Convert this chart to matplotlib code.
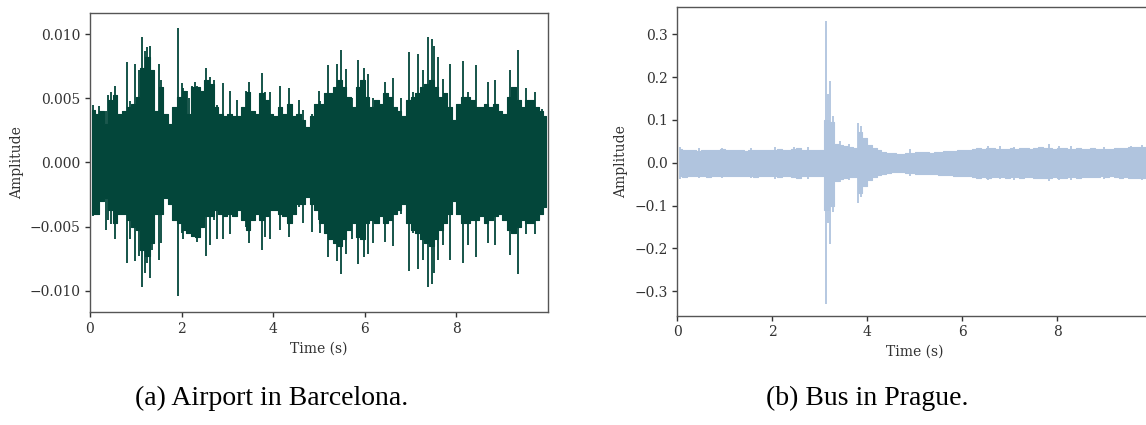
import numpy as np
import matplotlib
matplotlib.use("Agg")
import matplotlib.pyplot as plt

# envelope of each recording, one value per 0.1 s bin
airport_upper = [
    0.0041, 0.0038, 0.0040, 0.0030, 0.0049, 0.0053, 0.0038, 0.0040, 0.0043, 0.0046,
    0.0051, 0.0074, 0.0082, 0.0072, 0.0040, 0.0059, 0.0038, 0.0030, 0.0043, 0.0051,
    0.0056, 0.0038, 0.0059, 0.0059, 0.0056, 0.0064, 0.0061, 0.0043, 0.0038, 0.0036,
    0.0038, 0.0036, 0.0036, 0.0043, 0.0055, 0.0040, 0.0038, 0.0054, 0.0049, 0.0038,
    0.0036, 0.0043, 0.0038, 0.0046, 0.0036, 0.0038, 0.0033, 0.0028, 0.0036, 0.0046,
    0.0046, 0.0054, 0.0054, 0.0059, 0.0064, 0.0059, 0.0051, 0.0043, 0.0059, 0.0064,
    0.0051, 0.0043, 0.0049, 0.0046, 0.0054, 0.0051, 0.0043, 0.0040, 0.0036, 0.0049,
    0.0051, 0.0054, 0.0059, 0.0061, 0.0064, 0.0059, 0.0051, 0.0054, 0.0043, 0.0033,
    0.0046, 0.0051, 0.0051, 0.0049, 0.0043, 0.0043, 0.0046, 0.0043, 0.0046, 0.0040,
    0.0038, 0.0051, 0.0059, 0.0049, 0.0043, 0.0049, 0.0049, 0.0043, 0.0040, 0.0036,
]
airport_lower = [
    -0.0040, -0.0040, -0.0030, -0.0028, -0.0037, -0.0047, -0.0040, -0.0040, -0.0045, -0.0050,
    -0.0053, -0.0068, -0.0073, -0.0063, -0.0040, -0.0040, -0.0028, -0.0032, -0.0045, -0.0047,
    -0.0053, -0.0055, -0.0057, -0.0058, -0.0050, -0.0042, -0.0042, -0.0037, -0.0040, -0.0042,
    -0.0040, -0.0042, -0.0037, -0.0045, -0.0053, -0.0045, -0.0040, -0.0045, -0.0042, -0.0037,
    -0.0037, -0.0040, -0.0042, -0.0047, -0.0040, -0.0032, -0.0032, -0.0027, -0.0032, -0.0037,
    -0.0047, -0.0055, -0.0060, -0.0063, -0.0065, -0.0060, -0.0053, -0.0047, -0.0058, -0.0060,
    -0.0047, -0.0045, -0.0047, -0.0042, -0.0047, -0.0045, -0.0040, -0.0037, -0.0032, -0.0047,
    -0.0053, -0.0055, -0.0060, -0.0063, -0.0065, -0.0060, -0.0053, -0.0047, -0.0040, -0.0030,
    -0.0040, -0.0047, -0.0047, -0.0045, -0.0045, -0.0042, -0.0047, -0.0045, -0.0042, -0.0040,
    -0.0045, -0.0053, -0.0055, -0.0050, -0.0045, -0.0047, -0.0047, -0.0045, -0.0040, -0.0035,
]
# single spikes sticking out of the envelope: time (s), top, bottom
airport_spike_t = [
    0.06, 0.20, 0.35, 0.40, 0.45, 0.55, 0.80, 0.87, 0.98, 1.08,
    1.14, 1.20, 1.25, 1.30, 1.35, 1.51, 1.56, 1.93, 2.00, 2.04,
    2.11, 2.17, 2.22, 2.29, 2.33, 2.53, 2.63, 2.71, 2.77, 2.90,
    3.06, 3.20, 3.41, 3.48, 3.75, 3.82, 3.93, 4.15, 4.35, 4.57,
    4.66, 4.84, 4.99, 5.02, 5.20, 5.39, 5.49, 5.59, 5.71, 5.86,
    5.99, 6.08, 6.17, 6.44, 6.61, 6.79, 6.97, 7.06, 7.17, 7.26,
    7.37, 7.46, 7.52, 7.59, 7.71, 7.86, 8.15, 8.26, 8.43, 8.68,
    8.84, 9.16, 9.34, 9.53, 9.72, 9.86,
]
airport_spike_top = [
    0.0045, 0.0044, 0.0040, 0.0053, 0.0055, 0.0060, 0.0078, 0.0048, 0.0077, 0.0072,
    0.0098, 0.0087, 0.0090, 0.0091, 0.0068, 0.0077, 0.0064, 0.0105, 0.0062, 0.0058,
    0.0056, 0.0050, 0.0060, 0.0063, 0.0060, 0.0074, 0.0067, 0.0064, 0.0045, 0.0062,
    0.0056, 0.0049, 0.0056, 0.0063, 0.0070, 0.0055, 0.0055, 0.0060, 0.0058, 0.0049,
    0.0041, 0.0038, 0.0056, 0.0048, 0.0076, 0.0077, 0.0088, 0.0073, 0.0050, 0.0080,
    0.0074, 0.0069, 0.0050, 0.0063, 0.0066, 0.0050, 0.0086, 0.0055, 0.0085, 0.0072,
    0.0098, 0.0096, 0.0091, 0.0082, 0.0065, 0.0077, 0.0079, 0.0055, 0.0076, 0.0063,
    0.0064, 0.0072, 0.0088, 0.0058, 0.0055, 0.0042,
]
airport_spike_bot = [
    -0.0042, -0.0041, -0.0053, -0.0045, -0.0048, -0.0060, -0.0078, -0.0060, -0.0077, -0.0073,
    -0.0097, -0.0086, -0.0078, -0.0090, -0.0068, -0.0076, -0.0063, -0.0104, -0.0055, -0.0060,
    -0.0055, -0.0055, -0.0058, -0.0058, -0.0062, -0.0073, -0.0064, -0.0045, -0.0060, -0.0060,
    -0.0056, -0.0042, -0.0050, -0.0063, -0.0068, -0.0058, -0.0060, -0.0053, -0.0058, -0.0035,
    -0.0047, -0.0054, -0.0045, -0.0055, -0.0074, -0.0077, -0.0087, -0.0071, -0.0060, -0.0079,
    -0.0074, -0.0071, -0.0063, -0.0062, -0.0065, -0.0040, -0.0085, -0.0055, -0.0083, -0.0076,
    -0.0097, -0.0095, -0.0086, -0.0076, -0.0064, -0.0076, -0.0078, -0.0064, -0.0074, -0.0063,
    -0.0064, -0.0072, -0.0087, -0.0056, -0.0056, -0.0040,
]

bus_upper = [
    0.032, 0.029, 0.030, 0.031, 0.028, 0.030, 0.031, 0.029, 0.030, 0.032,
    0.030, 0.029, 0.031, 0.030, 0.028, 0.030, 0.031, 0.029, 0.030, 0.031,
    0.030, 0.032, 0.031, 0.030, 0.033, 0.034, 0.031, 0.030, 0.031, 0.030,
    0.030, 0.100, 0.095, 0.045, 0.042, 0.040, 0.038, 0.035, 0.072, 0.058,
    0.042, 0.035, 0.030, 0.026, 0.024, 0.022, 0.021, 0.021, 0.022, 0.024,
    0.026, 0.025, 0.025, 0.024, 0.025, 0.026, 0.027, 0.028, 0.028, 0.030,
    0.030, 0.031, 0.033, 0.034, 0.033, 0.035, 0.034, 0.033, 0.032, 0.033,
    0.034, 0.033, 0.035, 0.034, 0.033, 0.035, 0.036, 0.034, 0.035, 0.033,
    0.034, 0.035, 0.033, 0.032, 0.034, 0.033, 0.032, 0.034, 0.033, 0.032,
    0.033, 0.032, 0.034, 0.035, 0.034, 0.036, 0.037, 0.038, 0.037, 0.036,
]
bus_lower = [
    -0.031, -0.033, -0.030, -0.032, -0.031, -0.030, -0.033, -0.031, -0.030, -0.032,
    -0.031, -0.030, -0.032, -0.031, -0.030, -0.031, -0.033, -0.031, -0.030, -0.032,
    -0.031, -0.033, -0.032, -0.031, -0.034, -0.035, -0.032, -0.031, -0.032, -0.031,
    -0.031, -0.110, -0.100, -0.042, -0.038, -0.036, -0.034, -0.033, -0.070, -0.055,
    -0.040, -0.033, -0.029, -0.026, -0.024, -0.022, -0.021, -0.022, -0.023, -0.025,
    -0.027, -0.026, -0.027, -0.026, -0.027, -0.028, -0.028, -0.029, -0.030, -0.031,
    -0.032, -0.032, -0.034, -0.035, -0.034, -0.035, -0.034, -0.033, -0.034, -0.035,
    -0.034, -0.034, -0.035, -0.034, -0.033, -0.035, -0.036, -0.035, -0.036, -0.034,
    -0.035, -0.036, -0.034, -0.033, -0.035, -0.034, -0.033, -0.034, -0.033, -0.032,
    -0.033, -0.032, -0.034, -0.035, -0.034, -0.035, -0.036, -0.036, -0.035, -0.034,
]
bus_spike_t = [0.05, 0.45, 0.95, 1.55, 2.05, 2.45, 2.75, 3.13, 3.17, 3.22,
               3.28, 3.42, 3.62, 3.81, 3.86, 4.00, 4.90, 6.55, 6.80, 7.10,
               7.83, 8.05, 8.30, 9.00, 9.55, 9.80]
bus_spike_top = [0.036, 0.035, 0.035, 0.035, 0.036, 0.038, 0.036, 0.330, 0.160, 0.190,
                 0.110, 0.050, 0.045, 0.093, 0.085, 0.047, 0.032, 0.040, 0.040, 0.038,
                 0.044, 0.040, 0.040, 0.038, 0.040, 0.041]
bus_spike_bot = [-0.037, -0.036, -0.036, -0.036, -0.037, -0.036, -0.037, -0.330, -0.140, -0.190,
                 -0.115, -0.045, -0.040, -0.095, -0.080, -0.045, -0.030, -0.040, -0.038, -0.040,
                 -0.042, -0.041, -0.040, -0.039, -0.038, -0.040]

panels = [
    ("(a) Airport in Barcelona.", airport_upper, airport_lower,
     airport_spike_t, airport_spike_top, airport_spike_bot, "#03463a"),
    ("(b) Bus in Prague.", bus_upper, bus_lower,
     bus_spike_t, bus_spike_top, bus_spike_bot, "#b0c4de"),
]
positions = [[0.0785, 0.2659, 0.3997, 0.7035], [0.591, 0.2572, 0.4142, 0.7256]]
caption_x = [272 / 1146, 867 / 1146]

plt.rcParams["font.family"] = "DejaVu Serif"

fig = plt.figure(figsize=(11.46, 4.25), dpi=100)

for (caption, upper, lower, st, stop, sbot, col), pos, cx in zip(panels, positions, caption_x):
    ax = fig.add_axes(pos)
    t = np.arange(len(upper)) * 0.1 + 0.05
    ax.fill_between(t, lower, upper, step="mid", color=col, lw=0.8, edgecolor=col)
    ax.vlines(st, sbot, stop, color=col, lw=1.3)
    ax.set_xlim(0, 10)
    ax.set_xticks([0, 2, 4, 6, 8])
    ax.set_xlabel("Time (s)", fontsize=10, color="#333333")
    ax.set_ylabel("Amplitude", fontsize=10, color="#333333")
    ax.tick_params(labelsize=10, colors="#333333", length=3.5, width=1)
    for s in ax.spines.values():
        s.set_color("#555555")
        s.set_linewidth(1.0)
    fig.text(cx, 0.063, caption, ha="center", va="center",
             fontsize=20, family="Liberation Serif")

fig.axes[0].set_ylim(-0.01166, 0.01166)
fig.axes[1].set_ylim(-0.357, 0.363)

fig.savefig("out.png", dpi=100)
